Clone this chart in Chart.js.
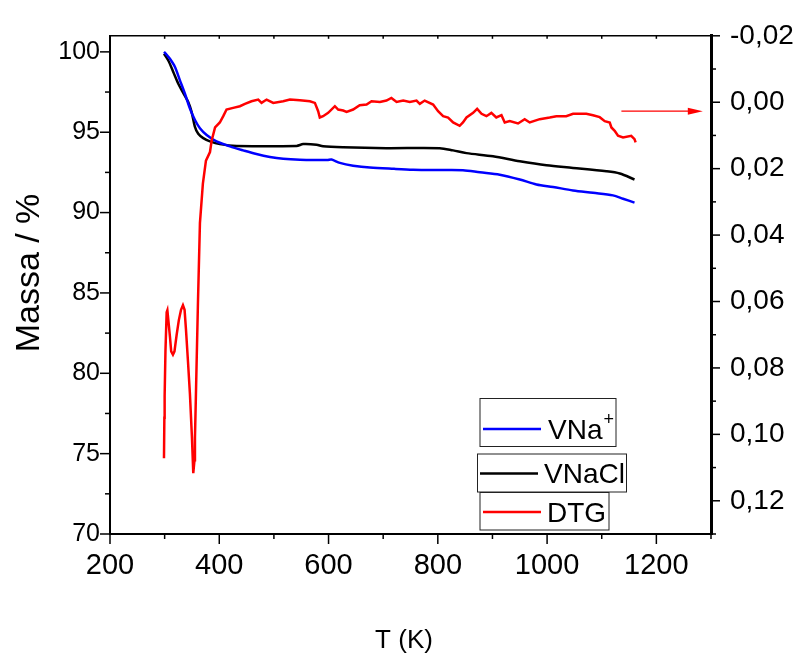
<!DOCTYPE html>
<html><head><meta charset="utf-8">
<script src="https://cdn.jsdelivr.net/npm/chart.js@4.4.1/dist/chart.umd.min.js"></script>
<style>html,body{margin:0;padding:0;background:#fff;}</style>
</head><body>
<canvas id="c" width="795" height="655"></canvas>
<script>
// ---- data ----
const tVNa = [298.8,303,309.7,318.9,328,337,346.3,355.5,364.6,376.9,395,419.5,443.8,468,492.7,517,547.5,584,598,605.5,620.7,645,675.6,720,754.8,800,846,877,913.4,950,980.5,1011,1047.5,1084,1120.6,1139,1160];
const massVNa = [100.0,99.85,99.57,99.06,98.23,97.41,96.48,95.76,95.25,94.83,94.43,94.12,93.87,93.64,93.46,93.35,93.29,93.27,93.27,93.30,93.09,92.92,92.80,92.72,92.67,92.65,92.64,92.51,92.36,92.06,91.75,91.59,91.38,91.23,91.07,90.86,90.62];

const tVNaCl = [298.8,306.7,315.8,325,334,343,349.3,355.3,361.5,370.7,383,401,431.8,541.5,553.6,578,590,626.8,706,803.6,828,852.5,901,950,998.8,1047.5,1108.5,1133,1160];
const massVNaCl = [99.88,99.46,98.75,98.02,97.45,96.89,96.27,95.35,94.90,94.63,94.43,94.26,94.15,94.15,94.26,94.22,94.12,94.06,94.01,94.01,93.87,93.70,93.50,93.19,92.94,92.78,92.57,92.43,92.06];

const tDTG = [298.8,299.5,300,301.5,303.7,305,307,309.7,312,315.2,318,322,326,330,333.5,336.5,339,342.7,346.3,350,352.4,354.6,355.5,357,358.6,361,364.6,370,375.6,383,386,392.3,401,407.3,413.3,425.5,437.8,447,459,471.3,477.4,486.6,498.8,517,529.3,547.5,565.8,575,581,584,590,599.3,611.6,617.6,626.8,633,645,657,669.6,678.7,694,706,715,724.6,736.6,748.8,761,767,776,791.4,800.5,809.7,818.8,828,840,846,852.5,864.6,872,880,889,898,907,916.5,922.5,931.6,946.8,959,968.2,986.5,1004.8,1017,1035,1047.5,1071.8,1084,1096.3,1105.5,1114.7,1117.7,1123.7,1129.8,1139,1154,1160,1162];
const dtg = [0.1072,0.095,0.0885,0.075,0.0632,0.0626,0.066,0.0706,0.075,0.0760,0.075,0.070,0.0656,0.0625,0.0611,0.0625,0.0683,0.078,0.0879,0.101,0.1117,0.1078,0.101,0.090,0.078,0.0602,0.0364,0.0245,0.0176,0.0150,0.0116,0.0076,0.0061,0.0042,0.0022,0.0017,0.0012,0.0005,-0.0003,-0.0008,0.0002,-0.0008,0.0002,-0.0003,-0.0008,-0.0006,-0.0003,0.0002,0.0027,0.0046,0.0042,0.0032,0.0012,0.0022,0.0025,0.0029,0.0022,0.0009,0.0007,-0.0003,-0.0001,-0.0005,-0.0013,-0.0001,-0.0005,-0.0001,-0.0005,0.0005,-0.0005,0.0007,0.0027,0.0042,0.0046,0.0061,0.0071,0.0061,0.0046,0.0032,0.0020,0.0035,0.0042,0.0032,0.0046,0.0039,0.0061,0.0057,0.0064,0.0051,0.0061,0.0051,0.0046,0.0042,0.0042,0.0035,0.0035,0.0039,0.0045,0.0057,0.0061,0.0076,0.0086,0.0101,0.0106,0.0101,0.0111,0.0121];

const xMajorTicks = [200,400,600,800,1000,1200];
const xMinorTicks = [300,500,700,900,1100,1300];
const leftMinorTicks = [72.5,77.5,82.5,87.5,92.5,97.5];
const rightMinorTicks = [-0.01,0.01,0.03,0.05,0.07,0.09,0.11,0.13];
const arrowT = [1136,1285];
const arrowDTG = 0.0027;
const seriesNames = ['VNa','VNaCl','DTG'];
const xTitle = 'T (K)';
const yTitle = 'Massa / %';

const FONT = "'Liberation Sans', Arial, Helvetica, sans-serif";
const pts = (xs, ys) => xs.map((x, i) => ({x, y: ys[i]}));

const decor = {
  id: 'decor',
  afterDraw(chart) {
    const {ctx, chartArea: a, scales} = chart;
    const x = scales.x, y = scales.y, y2 = scales.y2;
    const seg = (x1, y1, x2, y2_) => { ctx.beginPath(); ctx.moveTo(x1, y1); ctx.lineTo(x2, y2_); ctx.stroke(); };
    ctx.save();
    ctx.strokeStyle = '#000';
    ctx.lineWidth = 1.5;
    seg(a.left, a.top, a.right, a.top);
    xMajorTicks.forEach(v => { const p = x.getPixelForValue(v); seg(p, a.bottom, p, a.bottom + 10); seg(p, a.top, p, a.top + 3); });
    xMinorTicks.forEach(v => { const p = x.getPixelForValue(v); seg(p, a.bottom, p, a.bottom + 5); seg(p, a.top, p, a.top + 3); });
    y.ticks.forEach(t => { const p = y.getPixelForValue(t.value); seg(a.left - 10, p, a.left, p); });
    leftMinorTicks.forEach(v => { const p = y.getPixelForValue(v); seg(a.left - 5, p, a.left, p); });
    y2.ticks.forEach(t => { const p = y2.getPixelForValue(t.value); seg(a.right, p, a.right + 9, p); });
    rightMinorTicks.forEach(v => { const p = y2.getPixelForValue(v); seg(a.right, p, a.right + 5, p); });

    // axis titles
    ctx.fillStyle = '#000';
    ctx.textAlign = 'center'; ctx.textBaseline = 'middle';
    ctx.font = '26px ' + FONT;
    ctx.fillText(xTitle, 404, 641);
    ctx.save();
    ctx.translate(30, 273); ctx.rotate(-Math.PI / 2);
    ctx.font = '34px ' + FONT;
    ctx.fillText(yTitle, 0, 0);
    ctx.restore();

    // arrow
    const ax1 = x.getPixelForValue(arrowT[0]), ax2 = x.getPixelForValue(arrowT[1]);
    const ay = y2.getPixelForValue(arrowDTG);
    ctx.strokeStyle = '#ff0000'; ctx.fillStyle = '#ff0000'; ctx.lineWidth = 1.3;
    seg(ax1, ay, ax2 - 12, ay);
    ctx.beginPath(); ctx.moveTo(ax2, ay); ctx.lineTo(ax2 - 15, ay - 3.5); ctx.lineTo(ax2 - 15, ay + 3.5); ctx.closePath(); ctx.fill();

    // legend (three separate boxes)
    const boxes = [
      {bx: 480, by: 398.5, bw: 136, bh: 48, lx1: 483, lx2: 541, ly: 429, tx: 548, ty: 438.5, color: '#0000ff', sup: '+'},
      {bx: 477.5, by: 454, bw: 149, bh: 38, lx1: 480, lx2: 538, ly: 473.5, tx: 544, ty: 483, color: '#000000'},
      {bx: 480, by: 492.5, bw: 129, bh: 37.5, lx1: 483, lx2: 541, ly: 512, tx: 547, ty: 522, color: '#ff0000'}
    ];
    ctx.textAlign = 'left';
    boxes.forEach((b, i) => {
      ctx.strokeStyle = '#222'; ctx.lineWidth = 1;
      ctx.strokeRect(b.bx, b.by, b.bw, b.bh);
      ctx.strokeStyle = b.color; ctx.lineWidth = 2.5;
      seg(b.lx1, b.ly, b.lx2, b.ly);
      ctx.fillStyle = '#000'; ctx.font = '28px ' + FONT; ctx.textBaseline = 'alphabetic';
      ctx.fillText(seriesNames[i], b.tx, b.ty);
      if (b.sup) {
        const w = ctx.measureText(seriesNames[i]).width;
        ctx.font = '18px ' + FONT;
        ctx.fillText(b.sup, b.tx + w + 1, b.ty - 14);
      }
    });
    ctx.restore();
  }
};

new Chart(document.getElementById('c'), {
  type: 'line',
  data: {
    datasets: [
      {label: 'DTG', data: pts(tDTG, dtg), yAxisID: 'y2', borderColor: '#ff0000', borderWidth: 2.5, pointRadius: 0, tension: 0, fill: false},
      {label: 'VNa+', data: pts(tVNa, massVNa), yAxisID: 'y', borderColor: '#0000ff', borderWidth: 2.5, pointRadius: 0, tension: 0.3, fill: false},
      {label: 'VNaCl', data: pts(tVNaCl, massVNaCl), yAxisID: 'y', borderColor: '#000000', borderWidth: 2.5, pointRadius: 0, tension: 0.3, fill: false}
    ]
  },
  options: {
    responsive: false,
    animation: false,
    devicePixelRatio: 1,
    layout: {padding: {top: 31, right: 0, bottom: 0, left: 0}},
    plugins: {legend: {display: false}, tooltip: {enabled: false}},
    scales: {
      x: {
        type: 'linear', position: 'bottom', min: 200, max: 1300,
        grid: {display: false, drawTicks: false},
        border: {display: true, color: '#000', width: 2},
        ticks: {stepSize: 200, includeBounds: false, autoSkip: false, maxRotation: 0, padding: 15, color: '#000', font: {family: FONT, size: 29},
          callback: v => String(v)},
        title: {display: false},
        afterFit: s => { s.height = 121; }
      },
      y: {
        type: 'linear', position: 'left', min: 70, max: 101,
        grid: {display: false, drawTicks: false},
        border: {display: true, color: '#000', width: 2},
        ticks: {stepSize: 5, includeBounds: false, autoSkip: false, padding: 10, color: '#000', font: {family: FONT, size: 25},
          callback: v => String(v)},
        title: {display: false},
        afterFit: s => { s.width = 110; }
      },
      y2: {
        type: 'linear', position: 'right', min: -0.02, max: 0.13, reverse: true,
        grid: {display: false, drawTicks: false},
        border: {display: true, color: '#000', width: 3},
        ticks: {stepSize: 0.02, includeBounds: false, autoSkip: false, padding: 19, color: '#000', font: {family: FONT, size: 28},
          callback: v => (Math.abs(v) < 1e-9 ? 0 : v).toFixed(2).replace('.', ',')},
        afterFit: s => { s.width = 84; }
      }
    }
  },
  plugins: [decor]
});
</script>
</body></html>
